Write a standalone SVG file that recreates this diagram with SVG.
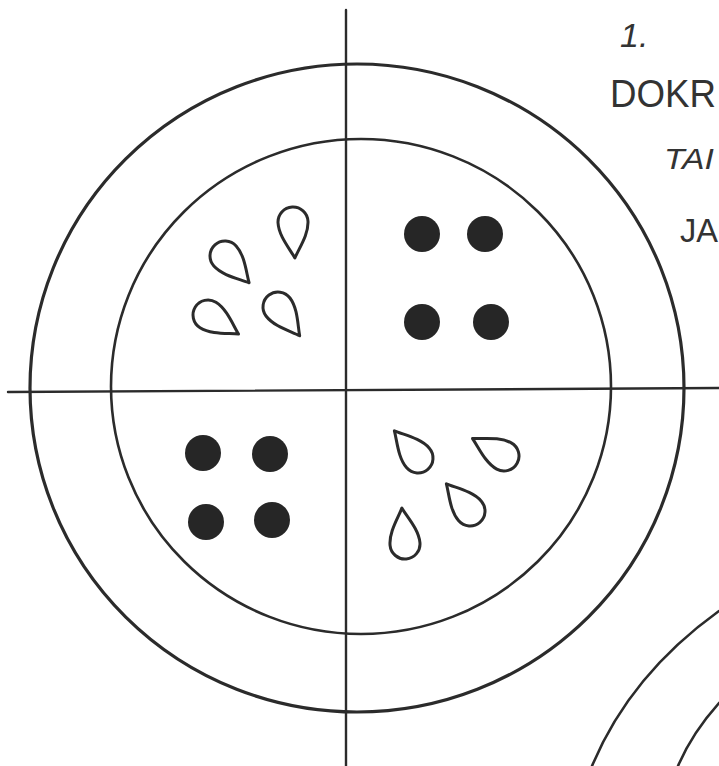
<svg xmlns="http://www.w3.org/2000/svg" width="719" height="766" viewBox="0 0 719 766">
  <style>
    .ln { fill: none; stroke: #2b2b2b; stroke-linecap: round; }
    .drop { fill: #ffffff; stroke: #2b2b2b; stroke-width: 3; stroke-linejoin: round; }
    .dot { fill: #262626; }
    .txt { font-family: "Liberation Sans", Arial, sans-serif; fill: #333333; }
  </style>
  <defs>
    <path id="tear" d="M 0 36 C 5 26, 15 13, 15 0 A 15 15 0 0 0 -15 0 C -15 13, -5 26, 0 36 Z"/>
  </defs>
  <rect width="719" height="766" fill="#ffffff"/>

  <g id="circles">
    <ellipse class="ln" cx="357" cy="388" rx="327" ry="324" stroke-width="3.2"/>
    <ellipse class="ln" cx="361" cy="386.5" rx="250" ry="247.5" stroke-width="2.6"/>
  </g>

  <g id="axes">
    <line class="ln" x1="346" y1="10" x2="346" y2="766" stroke-width="2.4"/>
    <line class="ln" x1="8" y1="392" x2="719" y2="388" stroke-width="2.4"/>
  </g>

  <g id="next-figure">
    <path class="ln" d="M 719 611 Q 630 675 592 766" stroke-width="2.6"/>
    <path class="ln" d="M 719 703 Q 692 733 678 766" stroke-width="2.6"/>
  </g>

  <g id="drops-upper-left">
    <use href="#tear" class="drop" transform="translate(293 222) rotate(-3)"/>
    <use href="#tear" class="drop" transform="translate(225 256) rotate(-42)"/>
    <use href="#tear" class="drop" transform="translate(208 315) rotate(-58)"/>
    <use href="#tear" class="drop" transform="translate(278 307) rotate(-37)"/>
  </g>

  <g id="drops-lower-right">
    <use href="#tear" class="drop" transform="translate(418 458) rotate(139)"/>
    <use href="#tear" class="drop" transform="translate(504 456) rotate(119)"/>
    <use href="#tear" class="drop" transform="translate(470 511) rotate(139)"/>
    <use href="#tear" class="drop" transform="translate(405 544) rotate(175)"/>
  </g>

  <g id="dots-upper-right">
    <circle class="dot" cx="422" cy="234" r="18"/>
    <circle class="dot" cx="485" cy="234" r="18"/>
    <circle class="dot" cx="422" cy="322" r="18"/>
    <circle class="dot" cx="491" cy="322" r="18"/>
  </g>

  <g id="dots-lower-left">
    <circle class="dot" cx="203" cy="453" r="18"/>
    <circle class="dot" cx="270" cy="454" r="18"/>
    <circle class="dot" cx="206" cy="522" r="18"/>
    <circle class="dot" cx="272" cy="520" r="18"/>
  </g>

  <g id="label">
    <text class="txt" x="620" y="47" font-size="34" font-style="italic">1.</text>
    <text class="txt" x="610" y="107" font-size="38" textLength="106" lengthAdjust="spacingAndGlyphs">DOKR</text>
    <text class="txt" x="664" y="169" font-size="30" font-style="italic" textLength="50" lengthAdjust="spacingAndGlyphs">TAI</text>
    <text class="txt" x="680" y="242" font-size="34" textLength="38" lengthAdjust="spacingAndGlyphs">JA</text>
  </g>
</svg>
